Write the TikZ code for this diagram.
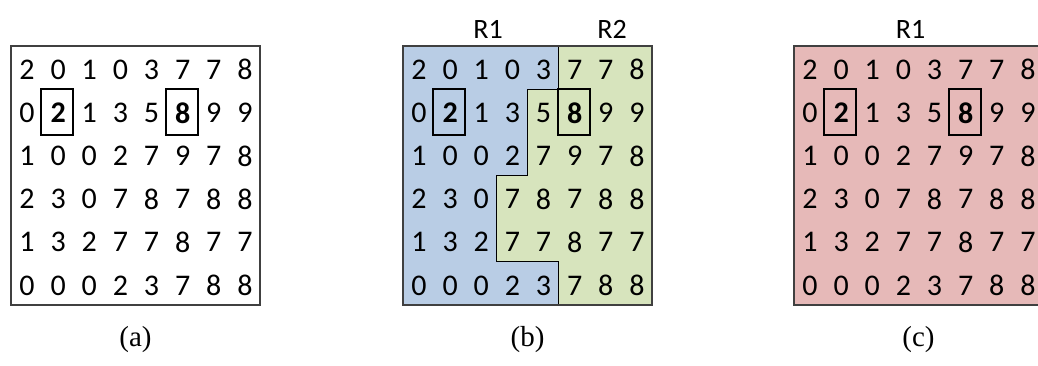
\documentclass[tikz,border=0pt]{standalone}
\usepackage{fontspec}
\setmainfont{Liberation Serif}
\newfontfamily\digitfont{Carlito}

\definecolor{regblue}{HTML}{B9CDE5}
\definecolor{reggreen}{HTML}{D7E4BD}
\definecolor{regred}{HTML}{E6B9B8}
\definecolor{framegray}{HTML}{404040}

% cell width and row height of the 8 x 6 grid
\def\cw{31.125}
\def\rh{43.1667}

\tikzset{
  digit/.style={inner sep=0pt, font=\digitfont\fontsize{30}{30}\selectfont},
  regionlabel/.style={inner sep=0pt, font=\digitfont\fontsize{28}{28}\selectfont},
  caption/.style={inner sep=0pt, font=\fontsize{29}{29}\selectfont},
  frame/.style={draw=framegray, line width=1.3pt},
  hlbox/.style={draw=black, line width=2pt},
  border/.style={draw=black, line width=1.1pt},
}

% the digit grid, with the two marked cells
\newcommand\digitgrid[1]{%
  \foreach \rowlist [count=\r from 0] in
    {{2,0,1,0,3,7,7,8},{0,\textbf{2},1,3,5,\textbf{8},9,9},{1,0,0,2,7,9,7,8},
     {2,3,0,7,8,7,8,8},{1,3,2,7,7,8,7,7},{0,0,0,2,3,7,8,8}}{%
    \foreach \d [count=\c from 0] in \rowlist {%
      \node[digit] (#1-\r-\c) at ({(\c+0.5)*\cw+0.5}, {(\r+0.5)*\rh+2}) {\d};
    }%
  }%
  \draw[hlbox] ({1*\cw-1}, {\rh}) rectangle ({2*\cw}, 89);
  \draw[hlbox] ({5*\cw-1}, {\rh}) rectangle ({6*\cw}, 89);
  \draw[frame] (0,0) rectangle (249,259);
}

\begin{document}
\begin{tikzpicture}[x=1pt, y=-1pt]
\useasboundingbox (0,0) rectangle (1038,365);
\clip (0,0) rectangle (1038,365);

% (a) plain grid
\begin{scope}[shift={(11,46)}]
  \fill[white] (0,0) rectangle (249,259);
  \digitgrid{a}
  \node[caption] (capa) at (124.5,294) {(a)};
\end{scope}

% (b) two regions R1 and R2
\begin{scope}[shift={(403,46)}]
  \fill[regblue] (0,0) rectangle (249,259);
  \fill[reggreen] ({5*\cw},0) -- (249,0) -- (249,259) -- ({5*\cw},259)
    -- ({5*\cw},{5*\rh}) -- ({3*\cw},{5*\rh}) -- ({3*\cw},{3*\rh})
    -- ({4*\cw},{3*\rh}) -- ({4*\cw},{\rh}) -- ({5*\cw},{\rh}) -- cycle;
  \draw[border] ({5*\cw},0) -- ({5*\cw},{\rh}) -- ({4*\cw},{\rh})
    -- ({4*\cw},{3*\rh}) -- ({3*\cw},{3*\rh}) -- ({3*\cw},{5*\rh})
    -- ({5*\cw},{5*\rh}) -- ({5*\cw},259);
  \digitgrid{b}
  \node[regionlabel] (r1b) at (85,-17) {R1};
  \node[regionlabel] (r2b) at (209,-17) {R2};
  \node[caption] (capb) at (124.5,294) {(b)};
\end{scope}

% (c) a single region R1
\begin{scope}[shift={(794,46)}]
  \fill[regred] (0,0) rectangle (249,259);
  \digitgrid{c}
  \node[regionlabel] (r1c) at (116.5,-17) {R1};
  \node[caption] (capc) at (124.5,294) {(c)};
\end{scope}
\end{tikzpicture}
\end{document}
